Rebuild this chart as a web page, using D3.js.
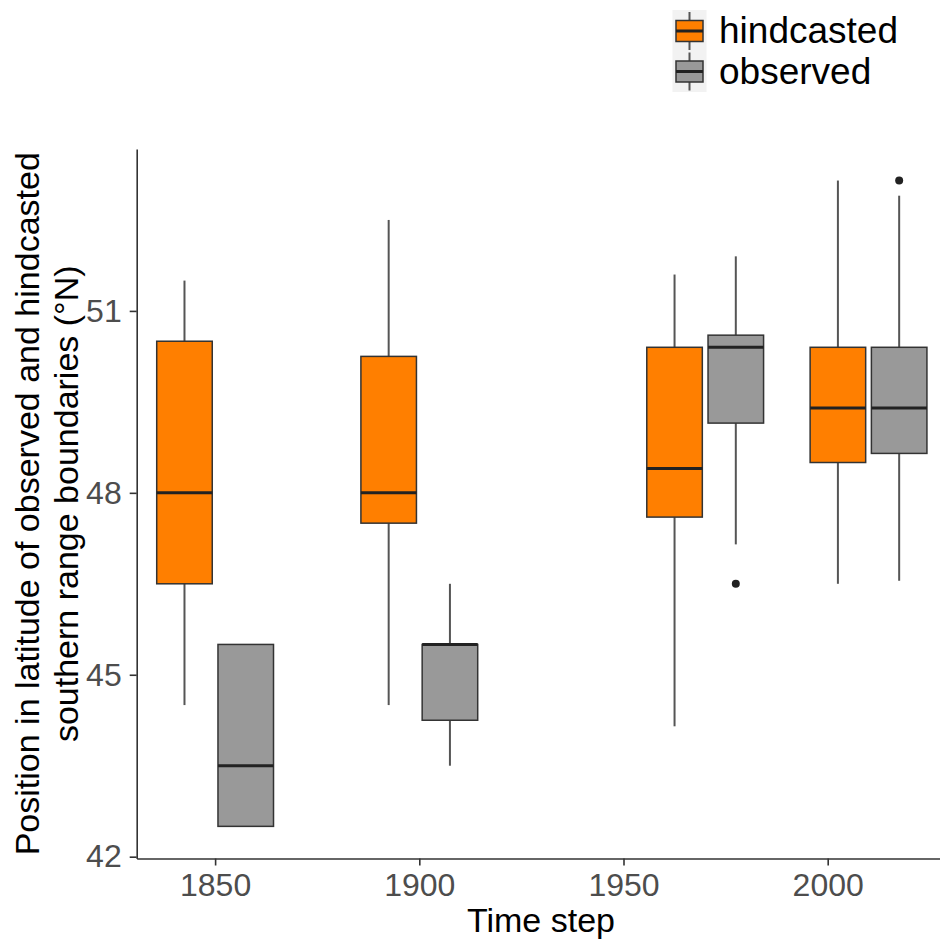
<!DOCTYPE html>
<meta charset="utf-8">
<style>
body {
  margin: 0;
  background: #ffffff;
  font-family: Arial, 'Liberation Sans', sans-serif;
}
svg {
  display: block;
}
.axis path, .axis line {
  stroke: #333333;
  stroke-width: 1.6;
}
.axis text {
  font-size: 32px;
  fill: #4d4d4d;
  font-family: Arial, 'Liberation Sans', sans-serif;
}
.box {
  stroke: #333333;
  stroke-width: 1.5;
}
.median {
  stroke: #222222;
  stroke-width: 3;
}
.whisker {
  stroke: #555555;
  stroke-width: 2;
}
.outlier {
  fill: #222222;
}
text.label {
  font-size: 34px;
  fill: #000000;
}
text.legend {
  font-size: 37px;
  fill: #000000;
}
</style>
<body>
<svg width="940" height="942"></svg>

<script src="https://d3js.org/d3.v7.min.js"></script>
<script>

    // time steps (group positions on the x axis)
    const years = [1850, 1900, 1970, 2010];
    const series = ['hindcasted', 'observed'];
    const colours = ['#ff7f00', '#999999'];

    // hindcasted boxes
    const hindLow = [44.5, 44.5, 44.15, 46.5];
    const hindQ1 = [46.5, 47.5, 47.6, 48.5];
    const hindMed = [48, 48, 48.4, 49.4];
    const hindQ3 = [50.5, 50.25, 50.4, 50.4];
    const hindHigh = [51.5, 52.5, 51.6, 53.15];
    const hindOut = [[], [], [], []];

    // observed boxes
    const obsLow = [42.5, 43.5, 47.15, 46.55];
    const obsQ1 = [42.5, 44.25, 49.15, 48.65];
    const obsMed = [43.5, 45.5, 50.4, 49.4];
    const obsQ3 = [45.5, 45.5, 50.6, 50.4];
    const obsHigh = [45.5, 46.5, 51.9, 52.9];
    const obsOut = [[], [], [46.5], [53.15]];

    const xTicks = [1850, 1900, 1950, 2000];
    const yTicks = [42, 45, 48, 51];

    const boxes = [];
    years.forEach((yr, i) => {
      boxes.push({ year: yr, s: 0, low: hindLow[i], q1: hindQ1[i], med: hindMed[i], q3: hindQ3[i], high: hindHigh[i], out: hindOut[i] });
      boxes.push({ year: yr, s: 1, low: obsLow[i], q1: obsQ1[i], med: obsMed[i], q3: obsQ3[i], high: obsHigh[i], out: obsOut[i] });
    });

    const svg = d3.select('svg');

    const pLeft = 136.7, pRight = 940, pTop = 149, pBottom = 858.5;

    const xScale = d3.scaleLinear()
      .domain([1830.8, 2027.5])
      .range([pLeft, pRight]);

    const yScale = d3.scaleLinear()
      .domain([41.97, 53.67])
      .range([pBottom, pTop]);

    const dodge = 7.5;     // years
    const boxWidth = 13.6; // years
    const cx = (d) => xScale(d.year + (d.s === 0 ? -dodge : dodge));
    const halfW = (xScale(boxWidth) - xScale(0)) / 2;

    // axes
    svg.append('g')
      .attr('class', 'axis')
      .attr('transform', `translate(0, ${pBottom})`)
      .call(d3.axisBottom(xScale).tickValues(xTicks).tickFormat(d3.format('d')).tickSize(7).tickPadding(8).tickSizeOuter(0));

    svg.append('g')
      .attr('class', 'axis')
      .attr('transform', `translate(${pLeft}, 0)`)
      .call(d3.axisLeft(yScale).tickValues(yTicks).tickSize(7).tickPadding(8).tickSizeOuter(0));

    const g = svg.selectAll('.bx')
      .data(boxes)
      .enter()
      .append('g')
      .attr('class', 'bx');

    g.append('line')
      .attr('class', 'whisker')
      .attr('x1', cx).attr('x2', cx)
      .attr('y1', (d) => yScale(d.q3))
      .attr('y2', (d) => yScale(d.high));

    g.append('line')
      .attr('class', 'whisker')
      .attr('x1', cx).attr('x2', cx)
      .attr('y1', (d) => yScale(d.q1))
      .attr('y2', (d) => yScale(d.low));

    g.append('rect')
      .attr('class', 'box')
      .attr('x', (d) => cx(d) - halfW)
      .attr('width', halfW * 2)
      .attr('y', (d) => yScale(d.q3))
      .attr('height', (d) => yScale(d.q1) - yScale(d.q3))
      .attr('fill', (d) => colours[d.s]);

    g.append('line')
      .attr('class', 'median')
      .attr('x1', (d) => cx(d) - halfW)
      .attr('x2', (d) => cx(d) + halfW)
      .attr('y1', (d) => yScale(d.med))
      .attr('y2', (d) => yScale(d.med));

    g.selectAll('circle')
      .data((d) => d.out.map((v) => ({ v: v, x: cx(d) })))
      .enter()
      .append('circle')
      .attr('class', 'outlier')
      .attr('cx', (o) => o.x)
      .attr('cy', (o) => yScale(o.v))
      .attr('r', 4);

    // axis titles
    svg.append('text')
      .attr('class', 'label')
      .attr('x', 541)
      .attr('y', 932)
      .attr('text-anchor', 'middle')
      .text('Time step');

    const midY = (pTop + pBottom) / 2;
    svg.append('text')
      .attr('class', 'label')
      .attr('transform', `translate(39, ${midY}) rotate(-90)`)
      .attr('text-anchor', 'middle')
      .text('Position in latitude of observed and hindcasted');

    svg.append('text')
      .attr('class', 'label')
      .attr('transform', `translate(78, ${midY}) rotate(-90)`)
      .attr('text-anchor', 'middle')
      .text('southern range boundaries (°N)');

    // legend
    const legend = svg.append('g');
    legend.append('rect')
      .attr('x', 672.5).attr('y', 10)
      .attr('width', 34).attr('height', 82)
      .attr('fill', '#f2f2f2');

    series.forEach((name, i) => {
      const kc = 31 + i * 40.5;
      const lg = legend.append('g');
      lg.append('line')
        .attr('class', 'whisker')
        .attr('x1', 689.5).attr('x2', 689.5)
        .attr('y1', kc - 19).attr('y2', kc + 19);
      lg.append('rect')
        .attr('class', 'box')
        .attr('x', 676).attr('y', kc - 10.5)
        .attr('width', 27).attr('height', 21)
        .attr('fill', colours[i]);
      lg.append('line')
        .attr('class', 'median')
        .attr('x1', 676).attr('x2', 703)
        .attr('y1', kc).attr('y2', kc);
      lg.append('text')
        .attr('class', 'legend')
        .attr('x', 719)
        .attr('y', 42.5 + i * 41.5)
        .text(name);
    });

</script>
</body>
